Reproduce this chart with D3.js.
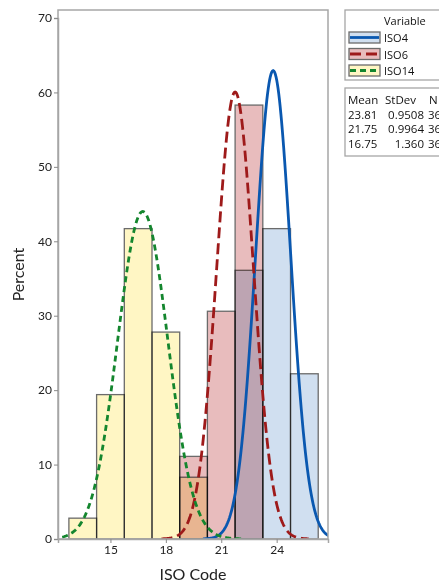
<!DOCTYPE html>
<html>
<head>
<meta charset="utf-8">
<script src="https://cdn.jsdelivr.net/npm/d3@7/dist/d3.min.js"></script>
<style>
  body { margin: 0; background: #fff; }
  svg { font-family: Lato, "Open Sans", sans-serif; }
  .lgText { font-family: "Open Sans", sans-serif; font-size: 11px; fill: #111; }
  .tbText { font-family: "Open Sans", sans-serif; font-size: 11.5px; fill: #111; }
</style>
</head>
<body>
<svg id="chart" width="439" height="585"></svg>
<script>
// histogram of percent per bin, three variables overlaid, with fitted normal curves
var variables = ["ISO4", "ISO6", "ISO14"];
var means = [23.81, 21.75, 16.75];
var stdevs = [0.9508, 0.9964, 1.360];
var counts = [36, 36, 36];
var meanLabels = ["23.81", "21.75", "16.75"];
var stdevLabels = ["0.9508", "0.9964", "1.360"];

var binCenters = [13.5, 15, 16.5, 18, 19.5, 21, 22.5, 24, 25.5];
var binWidth = 1.5;
var iso4Pct = [0, 0, 0, 0, 0, 0, 36.1, 41.7, 22.2];
var iso6Pct = [0, 0, 0, 0, 11.1, 30.6, 58.3, 0, 0];
var iso14Pct = [2.8, 19.4, 41.7, 27.8, 8.3, 0, 0, 0, 0];

var xTicks = [15, 18, 21, 24];
var yTicks = [0, 10, 20, 30, 40, 50, 60, 70];

var fills = ["#d0dff0", "#e8bcbd", "#fff6c4"];
var lineColors = ["#0a58b0", "#9e1a1a", "#14862e"];
var dashes = [null, "11,5", "6,4"];

var svg = d3.select("#chart")
var pLeft = 58, pRight = 328, pTop = 10, pBottom = 539

var x = d3.scaleLinear().domain([12.16, 26.78]).range([pLeft, pRight])
var y = d3.scaleLinear().domain([0, 70]).range([pBottom, 18])

svg.append("clipPath").attr("id", "plotClip")
    .append("rect")
    .attr("x", pLeft).attr("y", pTop)
    .attr("width", pRight - pLeft).attr("height", pBottom - pTop)

// bars
var series = [iso4Pct, iso6Pct, iso14Pct]
var barG = svg.append("g").style("isolation", "isolate")
series.forEach(function (vals, i) {
    barG.selectAll(".bar" + i)
        .data(binCenters.map(function (c, j) { return { c: c, v: vals[j] } }).filter(function (d) { return d.v > 0 }))
        .enter()
        .append("rect")
        .attr("class", "bar" + i)
        .attr("x", function (d) { return x(d.c - binWidth / 2) })
        .attr("width", function (d) { return x(d.c + binWidth / 2) - x(d.c - binWidth / 2) })
        .attr("y", function (d) { return y(d.v) })
        .attr("height", function (d) { return y(0) - y(d.v) })
        .attr("fill", fills[i])
        .attr("stroke", "#6b6b6b")
        .attr("stroke-width", 1.3)
        .style("mix-blend-mode", "multiply")
})

// fitted normal curves, scaled to percent per bin
function normalPts(m, s) {
    var pts = []
    var lo = m - 4 * s, hi = m + 4 * s
    for (var k = 0; k <= 200; k++) {
        var xv = lo + (hi - lo) * k / 200
        var z = (xv - m) / s
        pts.push([xv, 100 * binWidth * Math.exp(-z * z / 2) / (s * Math.sqrt(2 * Math.PI))])
    }
    return pts
}
var line = d3.line()
    .x(function (d) { return x(d[0]) })
    .y(function (d) { return y(d[1]) })

var curveG = svg.append("g").attr("clip-path", "url(#plotClip)")
variables.forEach(function (v, i) {
    curveG.append("path")
        .attr("d", line(normalPts(means[i], stdevs[i])))
        .attr("fill", "none")
        .attr("stroke", lineColors[i])
        .attr("stroke-width", 2.8)
        .attr("stroke-dasharray", dashes[i])
})

// frame
svg.append("rect")
    .attr("x", pLeft).attr("y", pTop)
    .attr("width", pRight - pLeft).attr("height", pBottom - pTop)
    .attr("fill", "none")
    .attr("stroke", "#a6a6a6")
    .attr("stroke-width", 1.5)

// axes
var yAxis = svg.append("g")
    .attr("transform", "translate(" + pLeft + ",0)")
    .call(d3.axisLeft(y).tickValues(yTicks).tickSize(4).tickPadding(2))
var xAxis = svg.append("g")
    .attr("transform", "translate(0," + pBottom + ")")
    .call(d3.axisBottom(x).tickValues(xTicks).tickSize(4).tickPadding(2))
;[yAxis, xAxis].forEach(function (a) {
    a.select(".domain").attr("stroke", "#a6a6a6").attr("stroke-width", 1.5)
    a.selectAll(".tick line").attr("stroke", "#8a8a8a")
    a.selectAll(".tick text").attr("fill", "#222").style("font-size", "12px")
        .style("font-family", "Lato, sans-serif")
})

svg.append("text")
    .attr("x", (pLeft + pRight) / 2).attr("y", 580)
    .attr("text-anchor", "middle")
    .attr("fill", "#222")
    .style("font-size", "16px")
    .text("ISO Code")
svg.append("text")
    .attr("transform", "translate(24," + ((pTop + pBottom) / 2) + ") rotate(-90)")
    .attr("text-anchor", "middle")
    .attr("fill", "#222")
    .style("font-size", "16px")
    .text("Percent")

// legend
var lg = svg.append("g")
lg.append("rect").attr("x", 345).attr("y", 10).attr("width", 120).attr("height", 70)
    .attr("fill", "#fff").attr("stroke", "#a6a6a6").attr("stroke-width", 1.3)
lg.append("text").attr("class", "lgText").attr("x", 384).attr("y", 25).text("Variable")
variables.forEach(function (v, i) {
    var yy = 32 + i * 16.5
    lg.append("rect").attr("x", 349).attr("y", yy).attr("width", 31).attr("height", 11)
        .attr("fill", fills[i]).attr("stroke", "#6b6b6b").attr("stroke-width", 1.3)
    lg.append("line").attr("x1", 350).attr("x2", 379).attr("y1", yy + 5.5).attr("y2", yy + 5.5)
        .attr("stroke", lineColors[i]).attr("stroke-width", 2.8)
        .attr("stroke-dasharray", dashes[i])
    lg.append("text").attr("class", "lgText").attr("x", 384).attr("y", yy + 10).text(v)
})

var tb = svg.append("g")
tb.append("rect").attr("x", 345).attr("y", 88).attr("width", 120).attr("height", 68)
    .attr("fill", "#fff").attr("stroke", "#a6a6a6").attr("stroke-width", 1.3)
var headers = [["Mean", 348], ["StDev", 385], ["N", 429]]
headers.forEach(function (h) {
    tb.append("text").attr("class", "tbText").attr("x", h[1]).attr("y", 104).text(h[0])
})
variables.forEach(function (v, i) {
    var yy = 118.5 + i * 14.5
    tb.append("text").attr("class", "tbText").attr("x", 348).attr("y", yy).text(meanLabels[i])
    tb.append("text").attr("class", "tbText").attr("x", 424).attr("y", yy)
        .attr("text-anchor", "end").text(stdevLabels[i])
    tb.append("text").attr("class", "tbText").attr("x", 428).attr("y", yy).text(counts[i])
})
</script>
</body>
</html>
